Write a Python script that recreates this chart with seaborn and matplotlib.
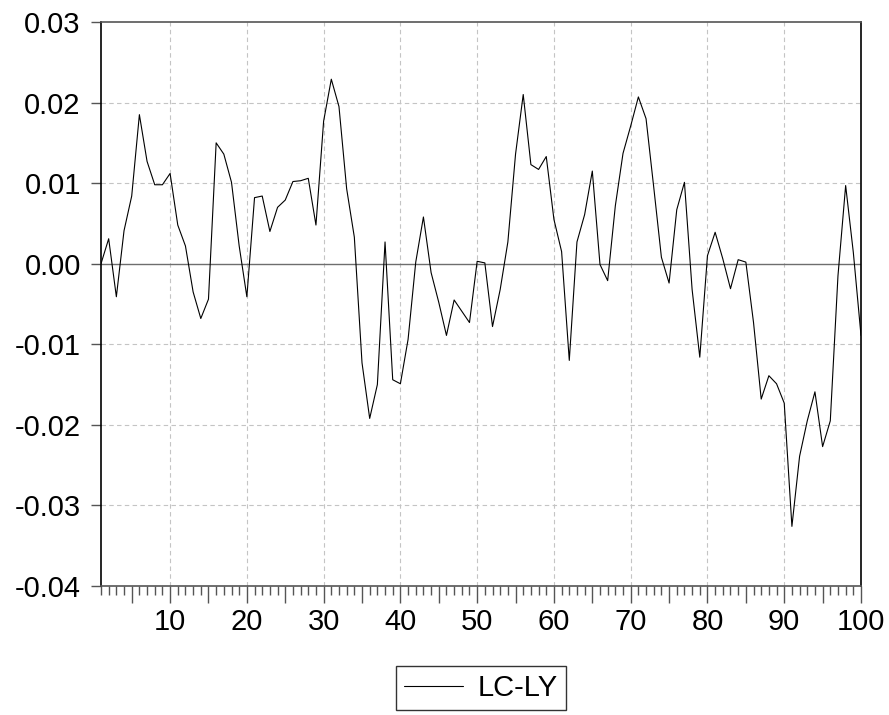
import numpy as np
import pandas as pd
import seaborn as sns
import matplotlib.pyplot as plt
from matplotlib.ticker import MultipleLocator, FuncFormatter

# data
obs = list(range(1, 101))
lc_ly = [
    0.0000, 0.0031, -0.0041, 0.0041, 0.0084, 0.0185, 0.0127, 0.0098, 0.0098, 0.0112,
    0.0048, 0.0022, -0.0035, -0.0068, -0.0044, 0.0150, 0.0136, 0.0101, 0.0022, -0.0041,
    0.0082, 0.0084, 0.0040, 0.0070, 0.0079, 0.0102, 0.0103, 0.0106, 0.0048, 0.0177,
    0.0229, 0.0195, 0.0093, 0.0033, -0.0123, -0.0192, -0.0150, 0.0027, -0.0144, -0.0149,
    -0.0094, 0.0002, 0.0058, -0.0011, -0.0048, -0.0089, -0.0045, -0.0059, -0.0073, 0.0003,
    0.0001, -0.0078, -0.0032, 0.0027, 0.0136, 0.0210, 0.0123, 0.0117, 0.0133, 0.0055,
    0.0015, -0.0120, 0.0027, 0.0061, 0.0115, -0.0001, -0.0021, 0.0072, 0.0137, 0.0171,
    0.0207, 0.0180, 0.0095, 0.0008, -0.0024, 0.0067, 0.0101, -0.0032, -0.0116, 0.0010,
    0.0039, 0.0006, -0.0031, 0.0005, 0.0002, -0.0073, -0.0168, -0.0139, -0.0149, -0.0173,
    -0.0326, -0.0239, -0.0195, -0.0159, -0.0227, -0.0195, -0.0015, 0.0097, 0.0014, -0.0089,
]
y_ticks = [-0.04, -0.03, -0.02, -0.01, 0.00, 0.01, 0.02, 0.03]
x_grid = [10, 20, 30, 40, 50, 60, 70, 80, 90]
series_name = "LC-LY"

df = pd.DataFrame({"obs": obs, series_name: lc_ly})

sns.set_style("white")
plt.rcParams['font.family'] = ['Liberation Sans', 'DejaVu Sans']
plt.rcParams['text.color'] = 'black'

fig = plt.figure(figsize=(8.89, 7.15), dpi=100)
ax = fig.add_axes([101 / 889, 1 - 586 / 715, 760 / 889, 564 / 715])

# grid
for g in y_ticks[1:-1]:
    if g != 0:
        ax.axhline(g, color="#c4c4c4", lw=0.8, ls=(0, (4, 3)), zorder=0)
for g in x_grid:
    ax.axvline(g, color="#c4c4c4", lw=0.8, ls=(0, (4, 3)), zorder=0)
ax.axhline(0, color="#6e6e6e", lw=1.0, zorder=1)

sns.lineplot(data=df, x="obs", y=series_name, color="black", lw=0.8,
             ax=ax, label=series_name, legend=False)

ax.set_xlim(1, 100)
ax.set_ylim(-0.04, 0.03)
ax.set_yticks(y_ticks)
ax.yaxis.set_major_formatter(FuncFormatter(lambda v, p: f"{v:.2f}".replace("-0.00", "0.00")))
ax.xaxis.set_major_locator(MultipleLocator(5))
ax.xaxis.set_minor_locator(MultipleLocator(1))
ax.xaxis.set_major_formatter(FuncFormatter(lambda v, p: f"{int(v)}" if int(v) % 10 == 0 else ""))

ax.set_xlabel("")
ax.set_ylabel("")

for side in ["left", "right"]:
    ax.spines[side].set_color("black")
    ax.spines[side].set_linewidth(1.2)
for side in ["top", "bottom"]:
    ax.spines[side].set_color("#555555")
    ax.spines[side].set_linewidth(1.2)

ax.tick_params(axis="y", which="major", direction="out", length=7.5, width=1,
               color="#555555", labelsize=21, labelcolor="black", pad=7, left=True)
ax.tick_params(axis="x", which="major", direction="out", length=12, width=1,
               color="#555555", labelsize=21, labelcolor="black", pad=4, bottom=True)
ax.tick_params(axis="x", which="minor", direction="out", length=6.5, width=1,
               color="#555555", bottom=True)

handles, labels = ax.get_legend_handles_labels()
leg = fig.legend(handles, labels, loc="upper center",
                 bbox_to_anchor=(481 / 889, 1 - 666 / 715), fontsize=21,
                 frameon=True, fancybox=False, edgecolor="black",
                 handlelength=2.0, handletextpad=0.5, borderpad=0.28,
                 borderaxespad=0.0)
leg.get_frame().set_linewidth(1.0)
for t in leg.get_texts():
    t.set_color("black")

fig.savefig("out.png", dpi=100)
